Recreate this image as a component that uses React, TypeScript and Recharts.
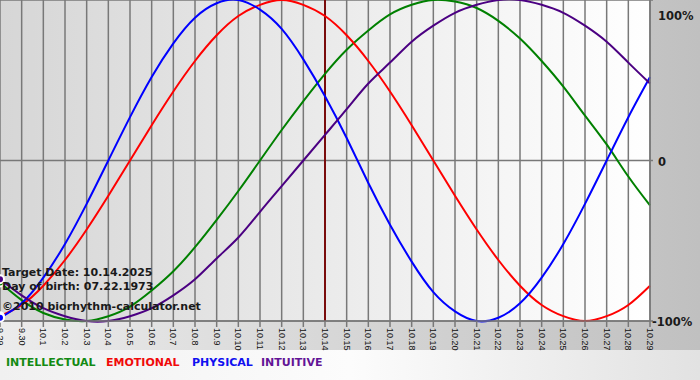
import React from 'react';
import { LineChart, Line, XAxis, YAxis, CartesianGrid, ReferenceLine } from 'recharts';

// days shown on the chart (target date 10.14)
const days = [
  '9.29', '9.30', '10.1', '10.2', '10.3', '10.4', '10.5', '10.6', '10.7', '10.8', '10.9',
  '10.10', '10.11', '10.12', '10.13', '10.14', '10.15', '10.16', '10.17', '10.18', '10.19',
  '10.20', '10.21', '10.22', '10.23', '10.24', '10.25', '10.26', '10.27', '10.28', '10.29',
];

const physical = [-98, -89, -73, -52, -27, 0, 27, 52, 73, 89, 98, 100, 94, 82, 63, 40, 14, -14, -40, -63, -82, -94, -100, -98, -89, -73, -52, -27, 0, 27, 52];
const emotional = [-97, -90, -78, -62, -43, -22, 0, 22, 43, 62, 78, 90, 97, 100, 97, 90, 78, 62, 43, 22, 0, -22, -43, -62, -78, -90, -97, -100, -97, -90, -78];
const intellectual = [-76, -87, -95, -99, -100, -97, -91, -81, -69, -54, -37, -19, 0, 19, 37, 54, 69, 81, 91, 97, 100, 99, 95, 87, 76, 62, 46, 28, 10, -10, -28];
const intuitive = [-74, -84, -92, -97, -100, -100, -97, -92, -84, -74, -61, -48, -32, -16, 0, 16, 32, 48, 61, 74, 84, 92, 97, 100, 100, 97, 92, 84, 74, 61, 48];

const yTicks = [-100, 0, 100];
const yTickLabels = ['-100%', '0', '100%'];

const targetDay = '10.14';

const data = days.map((day, i) => ({
  day,
  intellectual: intellectual[i],
  emotional: emotional[i],
  physical: physical[i],
  intuitive: intuitive[i],
}));

const boldFont = "'DejaVu Sans', Verdana, sans-serif";

const XTick = (props: any) => {
  const { x, y, payload } = props;
  return (
    <text
      x={x}
      y={y}
      dy="0.35em"
      transform={`rotate(90, ${x}, ${y})`}
      textAnchor="start"
      fontSize={9}
      fontFamily="'Liberation Sans', Arial, sans-serif"
      fill="#111"
    >
      {payload.value}
    </text>
  );
};

const YTick = (props: any) => {
  const { x, y, payload } = props;
  const v = payload.value;
  const label = yTickLabels[yTicks.indexOf(v)];
  const dx = v === -100 ? -6 : 0;
  const dy = v === 100 ? 7 : v === 0 ? 1.5 : 1;
  return (
    <text
      x={x + dx}
      y={y + dy}
      dy="0.35em"
      textAnchor="start"
      fontSize={11.5}
      fontWeight="bold"
      fontFamily={boldFont}
      fill="#1a1a1a"
    >
      {label}
    </text>
  );
};

const infoStyle: React.CSSProperties = {
  position: 'absolute',
  left: 2,
  fontFamily: boldFont,
  fontWeight: 'bold',
  fontSize: 11,
  lineHeight: '11px',
  color: '#1a1a1a',
  whiteSpace: 'nowrap',
};

const legendItems = [
  { name: 'INTELLECTUAL', color: '#138a13', left: 6 },
  { name: 'EMOTIONAL', color: '#f00a0a', left: 106 },
  { name: 'PHYSICAL', color: '#1010f0', left: 192 },
  { name: 'INTUITIVE', color: '#631596', left: 261 },
];

export default function App() {
  return (
    <div
      style={{
        position: 'relative',
        width: 700,
        height: 380,
        overflow: 'hidden',
        background: 'linear-gradient(to right, #ececec, #c0c0c0)',
      }}
    >
      <style>{'body{margin:0}'}</style>
      {/* light strip behind the legend */}
      <div
        style={{
          position: 'absolute',
          left: 0,
          top: 350,
          width: 700,
          height: 30,
          background: 'linear-gradient(to right, #f0f0f0, #fcfcfc 50%, #e2e2e2)',
        }}
      />
      <div style={{ position: 'absolute', left: 0, top: 0 }}>
        <LineChart width={700} height={380} data={data} margin={{ top: 0, right: 0, bottom: 0, left: 0 }}>
          <defs>
            <linearGradient id="plotBg" x1="0" y1="0" x2="1" y2="0">
              <stop offset="0%" stopColor="#d6d6d6" />
              <stop offset="100%" stopColor="#ffffff" />
            </linearGradient>
          </defs>
          <CartesianGrid stroke="#787878" strokeWidth={1.5} fill="url(#plotBg)" fillOpacity={1} />
          <XAxis
            dataKey="day"
            interval={0}
            height={59}
            tickSize={6}
            tickMargin={1}
            tick={<XTick />}
            axisLine={{ stroke: '#787878', strokeWidth: 1.5 }}
            tickLine={{ stroke: '#787878', strokeWidth: 1.5 }}
          />
          <YAxis
            orientation="right"
            width={50}
            domain={[-100, 100]}
            ticks={yTicks}
            tickSize={3}
            tickMargin={5}
            tick={<YTick />}
            axisLine={{ stroke: '#787878', strokeWidth: 1.5 }}
            tickLine={{ stroke: '#787878', strokeWidth: 1.5 }}
          />
          <ReferenceLine x={targetDay} stroke="#7a0c0c" strokeWidth={2} />
          <Line type="natural" dataKey="intellectual" stroke="#008000" strokeWidth={2} dot={false} isAnimationActive={false} />
          <Line type="natural" dataKey="emotional" stroke="#ff0000" strokeWidth={2} dot={false} isAnimationActive={false} />
          <Line type="natural" dataKey="physical" stroke="#0000ff" strokeWidth={2} dot={false} isAnimationActive={false} />
          <Line type="natural" dataKey="intuitive" stroke="#4b0082" strokeWidth={2} dot={false} isAnimationActive={false} />
        </LineChart>
      </div>

      <div style={{ ...infoStyle, top: 267 }}>Target Date: 10.14.2025</div>
      <div style={{ ...infoStyle, top: 281 }}>Day of birth: 07.22.1973</div>
      <div style={{ ...infoStyle, top: 301 }}>©2010 biorhythm-calculator.net</div>

      {legendItems.map((item) => (
        <div
          key={item.name}
          style={{
            position: 'absolute',
            left: item.left,
            top: 357,
            fontFamily: boldFont,
            fontWeight: 'bold',
            fontSize: 11,
            lineHeight: '11px',
            color: item.color,
            whiteSpace: 'nowrap',
          }}
        >
          {item.name}
        </div>
      ))}
    </div>
  );
}
